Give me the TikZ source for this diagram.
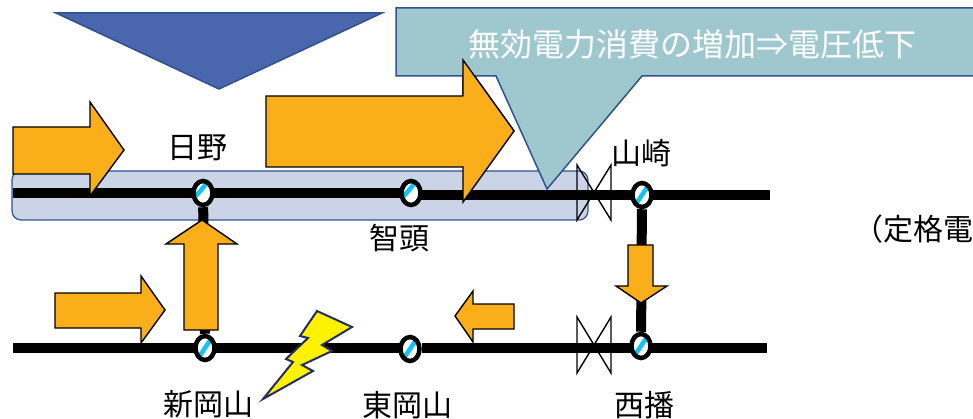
\documentclass[tikz,border=0pt]{standalone}
\usepackage{fontspec}
\setmainfont{Noto Sans CJK JP}
\usetikzlibrary{shapes.geometric}
\definecolor{flow}{HTML}{F9AE1A}
\definecolor{edgeblue}{HTML}{2F528F}
\definecolor{wedge}{HTML}{4A66AC}
\definecolor{callout}{HTML}{9FC7CE}
\definecolor{band}{HTML}{CBD3E6}
\definecolor{stripe}{HTML}{14C4F0}
\definecolor{boltedge}{HTML}{252C5E}

\begin{document}
\begin{tikzpicture}[x=1pt,y=-1pt,
    station/.style ={ellipse, draw, line width=4.5pt, fill=white, inner sep=0pt,
      minimum width=19pt, minimum height=24pt,
      path picture={\draw[stripe, line width=4.5pt]
        ([xshift=-6pt,yshift=-9pt]path picture bounding box.center) --
        ([xshift=6pt,yshift=9pt]path picture bounding box.center);}},
    stationhigh/.style ={ellipse, draw, line width=4.5pt, fill=white, inner sep=0pt,
      minimum width=19pt, minimum height=24pt,
      path picture={\draw[stripe, line width=4.5pt]
        ([xshift=-7pt,yshift=-3pt]path picture bounding box.center) --
        ([xshift=4pt,yshift=10pt]path picture bounding box.center);}},
    place/.style ={font=\fontsize{30}{36}\selectfont, inner sep=0pt},
    track/.style ={line width=10pt},
    flowarrow/.style ={draw, fill=flow, line width=1.4pt, line join=miter},
    breaker/.style ={draw, line width=1.4pt}]
   \useasboundingbox (0,0) rectangle (973,419);

   \fill[white] (0,0) rectangle (973,419);
   \draw[edgeblue, fill=band, line width=1.2pt, rounded corners=9pt] (12,171) rectangle (588,220);

   \coordinate (WestTop) at (13,193);
   \coordinate (EastTop) at (770,195);
   \coordinate (WestBottom) at (13,348);
   \coordinate (EastBottom) at (767,348);
   \coordinate (GapTop) at (401,193);
   \coordinate (GapBottom) at (422,348);

   \draw[track] (WestTop) to (GapTop);
   \draw[track] (411,195) to (EastTop);
   \draw[track] (WestBottom) to (400,348);
   \draw[track] (GapBottom) to (EastBottom);

   \node[stationhigh] (Hino) at (203,193) {};
   \node[stationhigh] (Chizu) at (411,193) {};
   \node[station] (Yamasaki) at (642,195) {};
   \node[station] (ShinOkayama) at (205,348) {};
   \node[station] (HigashiOkayama) at (410,349) {};
   \node[station] (Seiban) at (641,346) {};

   \draw[track] (Hino) to (ShinOkayama);
   \draw[track] (Yamasaki) to (Seiban);

   % power flow
   \draw[flowarrow] (13,127) -- (90,127) -- (90,102) -- (124,150) -- (90,196) -- (90,174) -- (13,174) -- cycle;
   \draw[flowarrow] (266,96) -- (463,96) -- (463,60) -- (514,131) -- (463,202) -- (463,167) -- (266,167) -- cycle;
   \draw[flowarrow] (55,293) -- (141,293) -- (141,276) -- (165,310) -- (141,343) -- (141,328) -- (55,328) -- cycle;
   \draw[flowarrow] (184,330) -- (184,244) -- (166,244) -- (202,220) -- (237,244) -- (218,244) -- (218,330) -- cycle;
   \draw[flowarrow] (628,245) -- (653,245) -- (653,286) -- (667,286) -- (641,303) -- (616,286) -- (628,286) -- cycle;
   \draw[flowarrow] (514,304) -- (473,304) -- (473,291) -- (455,316) -- (473,342) -- (473,329) -- (514,329) -- cycle;

   \draw[breaker] (577,165) -- (611,220) -- (611,165) -- (577,220) -- cycle;
   \draw[breaker] (577,317) -- (611,373) -- (611,317) -- (577,373) -- cycle;

   \draw[edgeblue, fill=wedge, line width=1.5pt, line join=miter] (56,13) -- (382,13) -- (219,89) -- cycle;
   \draw[edgeblue, fill=callout, line width=1.5pt, line join=miter]
      (396,8) -- (980,8) -- (980,76) -- (642,76) -- (547,189) -- (496,76) -- (396,76) -- cycle;
   \draw[flowarrow] (463,96) -- (463,60) -- (514,131);
   \fill[flow] (464.5,97) -- (464.5,64) -- (512,130) -- (464.5,130) -- cycle;

   \draw[draw=boltedge, fill=yellow, line width=2pt, line join=miter]
      (317,311) -- (352,327) -- (322,345) -- (332,351) -- (302,365) -- (313,371) -- (263,399)
      -- (293,362) -- (286,359) -- (308,338) -- (300,336) -- cycle;

   \node[place] (HinoName) at (197,148) {日野};
   \node[place] (YamasakiName) at (641,153) {山崎};
   \node[place] (ChizuName) at (399,238) {智頭};
   \node[place] (ShinOkayamaName) at (208,404) {新岡山};
   \node[place] (HigashiOkayamaName) at (407,405) {東岡山};
   \node[place] (SeibanName) at (644,405) {西播};
   \node[place, anchor=west] (RatingName) at (853,229) {（定格電};
   \node[font=\fontsize{32}{38}\selectfont, text=white, inner sep=0pt] (CalloutName) at (692,44) {無効電力消費の増加⇒電圧低下};
 \end{tikzpicture}
\end{document}
